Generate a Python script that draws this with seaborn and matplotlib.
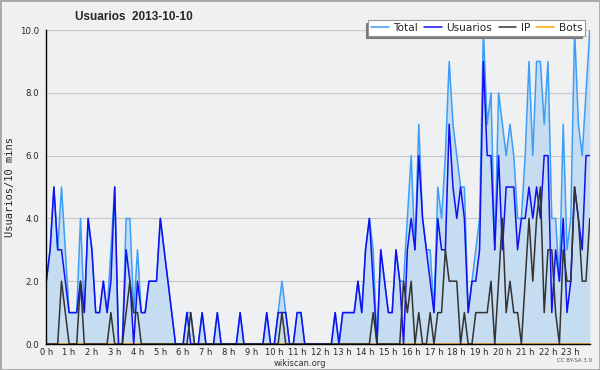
import seaborn as sns
import matplotlib.pyplot as plt
import pandas as pd
import numpy as np
from matplotlib.lines import Line2D
from matplotlib.patches import Rectangle

sns.set_style("white")
plt.rcParams["font.family"] = ["DejaVu Sans"]

# 10-minute slots for 2013-10-10 (144 slots)
total = [2, 3, 5, 3, 5, 3, 1, 1, 1, 4, 1, 4, 3, 1, 1, 2, 1, 3, 5, 0,
         0, 4, 4, 1, 3, 1, 1, 2, 2, 2, 4, 3, 2, 1, 0, 0, 0, 1, 1, 0,
         0, 1, 0, 0, 0, 1, 0, 0, 0, 0, 0, 1, 0, 0, 0, 0, 0, 0, 1, 0,
         0, 1, 2, 1, 0, 0, 1, 1, 0, 0, 0, 0, 0, 0, 0, 0, 1, 0, 1, 1,
         1, 1, 2, 1, 3, 4, 3, 0, 3, 2, 1, 1, 3, 2, 2, 4, 6, 3, 7, 4,
         3, 3, 1, 5, 4, 6, 9, 7, 6, 5, 5, 1, 2, 3, 4, 10, 7, 8, 3, 8,
         7, 6, 7, 6, 4, 4, 6, 9, 6, 9, 9, 7, 9, 4, 4, 2, 7, 3, 4, 10,
         7, 6, 8, 10]
usuarios = [2, 3, 5, 3, 3, 2, 1, 1, 1, 2, 1, 4, 3, 1, 1, 2, 1, 2, 5, 0,
            0, 3, 2, 0, 2, 1, 1, 2, 2, 2, 4, 3, 2, 1, 0, 0, 0, 1, 0, 0,
            0, 1, 0, 0, 0, 1, 0, 0, 0, 0, 0, 1, 0, 0, 0, 0, 0, 0, 1, 0,
            0, 1, 1, 1, 0, 0, 1, 1, 0, 0, 0, 0, 0, 0, 0, 0, 1, 0, 1, 1,
            1, 1, 2, 1, 3, 4, 2, 0, 3, 2, 1, 1, 3, 2, 0, 3, 4, 3, 6, 4,
            3, 2, 1, 4, 3, 3, 7, 5, 4, 5, 4, 1, 2, 2, 3, 9, 6, 6, 3, 6,
            3, 5, 5, 5, 3, 4, 4, 5, 4, 5, 4, 6, 6, 1, 3, 2, 4, 1, 2, 5,
            4, 3, 6, 6]
ip = [0, 0, 0, 0, 2, 1, 0, 0, 0, 2, 0, 0, 0, 0, 0, 0, 0, 1, 0, 0,
      0, 1, 2, 1, 1, 0, 0, 0, 0, 0, 0, 0, 0, 0, 0, 0, 0, 0, 1, 0,
      0, 0, 0, 0, 0, 0, 0, 0, 0, 0, 0, 0, 0, 0, 0, 0, 0, 0, 0, 0,
      0, 0, 1, 0, 0, 0, 0, 0, 0, 0, 0, 0, 0, 0, 0, 0, 0, 0, 0, 0,
      0, 0, 0, 0, 0, 0, 1, 0, 0, 0, 0, 0, 0, 0, 2, 1, 2, 0, 1, 0,
      0, 1, 0, 1, 1, 3, 2, 2, 2, 0, 1, 0, 0, 1, 1, 1, 1, 2, 0, 2,
      4, 1, 2, 1, 1, 0, 2, 4, 2, 4, 5, 1, 3, 3, 1, 0, 3, 2, 2, 5,
      4, 2, 2, 4]
bots = [0] * 144
hour_labels = [f"{h} h" for h in range(24)]

df = pd.DataFrame({"slot": np.arange(len(total)), "Total": total,
                   "Usuarios": usuarios, "IP": ip, "Bots": bots})

colors = {"Total": "#3d9ef7", "Usuarios": "#1010f0", "IP": "#333333", "Bots": "#ffa000"}

fig = plt.figure(figsize=(6, 3.7), dpi=100, facecolor="#f0f0f0")
ax = fig.add_axes([46.3 / 600, 26 / 370, 543.5 / 600, 314 / 370])
ax.set_facecolor("#eff0f2")

ax.fill_between(df["slot"], df["Total"], color="#c6dcf0", lw=0, zorder=1)
for name in ["Bots", "Total", "Usuarios", "IP"]:
    sns.lineplot(data=df, x="slot", y=name, color=colors[name], lw=1.1, ax=ax, zorder=2)

ax.set_xlim(0, 143)
ax.set_ylim(0, 10)
ax.set_xticks(np.arange(0, 144, 6))
ax.set_xticklabels(hour_labels)
ax.set_xticks(np.arange(0, 144), minor=True)
ax.set_yticks(np.arange(0, 10.1, 2))
ax.set_yticklabels([f"{v:.1f}" for v in np.arange(0, 10.1, 2)])
ax.set_yticks(np.arange(0, 10.1, 0.5), minor=True)
ax.tick_params(axis="y", which="major", labelsize=6.2, length=4, width=0.8, pad=1, color="black")
ax.tick_params(axis="x", which="major", labelsize=6, length=3, width=0.8, pad=0, color="black")
ax.tick_params(axis="both", which="minor", length=3, width=0.7, color="black")
ax.grid(axis="y", color="#c8c8c8", lw=0.8)
ax.set_axisbelow(True)
for side in ["top", "right"]:
    ax.spines[side].set_visible(False)
for side in ["left", "bottom"]:
    ax.spines[side].set_color("black")
    ax.spines[side].set_linewidth(1)
    ax.spines[side].set_zorder(3)
ax.set_xlabel("")
ax.set_ylabel("Usuarios/10 mins", family="DejaVu Sans Mono", fontsize=7.5, labelpad=4)

fig.text(75 / 600, 1 - 17 / 370, "Usuarios  2013-10-10", fontsize=8.5,
         fontweight="bold", ha="left", va="center", family="Liberation Sans")

handles = [Line2D([], [], color=colors[n], lw=1.1) for n in ["Total", "Usuarios", "IP", "Bots"]]
leg = fig.legend(handles, ["Total", "Usuarios", "IP", "Bots"], ncol=4,
                 loc="upper right", bbox_to_anchor=(590 / 600, 1 - 15 / 370),
                 fontsize=7.6, frameon=True, fancybox=False, edgecolor="#999999",
                 framealpha=1, handlelength=1.7, handletextpad=0.4,
                 columnspacing=0.6, borderpad=0.25,
                 shadow={"ox": -2, "oy": -2, "color": "#7a7a7a", "alpha": 1})
leg.get_frame().set_linewidth(0.8)

fig.text(0.5, 1 - 363 / 370, "wikiscan.org", fontsize=6, color="#333333", ha="center", va="center")
fig.text(575 / 600, 1 - 361 / 370, "CC BY-SA 3.0", fontsize=4, color="#555555", ha="center", va="center")

fig.patches.append(Rectangle((0, 0), 1, 1, transform=fig.transFigure, fill=False,
                             edgecolor="#a8a8a8", lw=2))

fig.savefig("out.png", dpi=100, facecolor=fig.get_facecolor())
plt.close(fig)
